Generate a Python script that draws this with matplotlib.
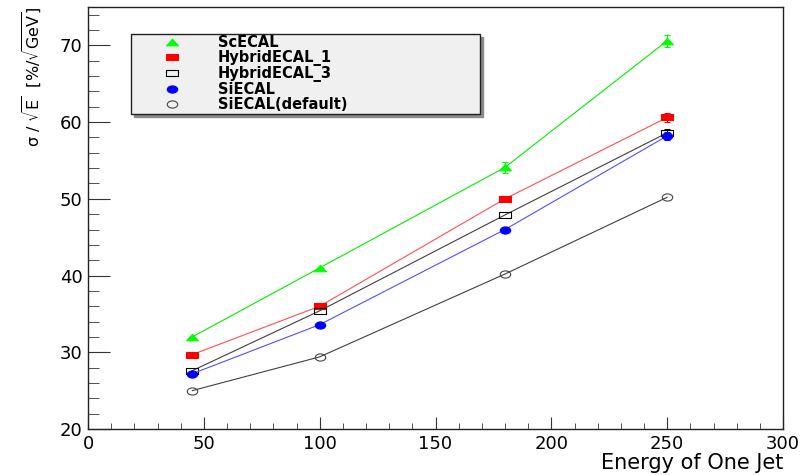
import matplotlib
matplotlib.use("Agg")
import matplotlib.pyplot as plt
from matplotlib.path import Path
from matplotlib.transforms import Affine2D
from matplotlib.lines import Line2D
from matplotlib.ticker import MultipleLocator

plt.rcParams['font.family'] = ['DejaVu Sans']
plt.rcParams['mathtext.default'] = 'regular'

# jet energies (GeV)
energy = [45, 100, 180, 250]

# resolution sigma/sqrt(E) in %/sqrt(GeV), with errors
sc_ecal = [32.0, 41.0, 54.1, 70.6]
sc_ecal_err = [0.0, 0.0, 0.7, 0.8]
hybrid_1 = [29.7, 36.0, 50.0, 60.6]
hybrid_1_err = [0.0, 0.0, 0.0, 0.6]
hybrid_3 = [27.6, 35.4, 47.9, 58.6]
hybrid_3_err = [0.0, 0.0, 0.0, 0.5]
si_ecal = [27.2, 33.6, 46.0, 58.2]
si_ecal_err = [0.0, 0.0, 0.0, 0.5]
si_default = [25.0, 29.4, 40.2, 50.2]
si_default_err = [0.0, 0.0, 0.0, 0.0]

labels = ["ScECAL", "HybridECAL_1", "HybridECAL_3", "SiECAL", "SiECAL(default)"]

# wide marker shapes
ellipse = Path.unit_circle().transformed(Affine2D().scale(1.45, 1.0))
rect = Path([(-1.7, -1), (1.7, -1), (1.7, 1), (-1.7, 1), (-1.7, -1)],
            [Path.MOVETO, Path.LINETO, Path.LINETO, Path.LINETO, Path.CLOSEPOLY])
tri = Path([(-1.8, -1), (1.8, -1), (0, 1), (-1.8, -1)],
           [Path.MOVETO, Path.LINETO, Path.LINETO, Path.CLOSEPOLY])

series = [
    (sc_ecal, sc_ecal_err, '#00ee00', '#00ff00', tri, '#00ff00', 8.5),
    (hybrid_1, hybrid_1_err, '#ff5050', '#ff0000', rect, '#ff0000', 8.5),
    (hybrid_3, hybrid_3_err, '#404040', 'none', rect, 'black', 8.5),
    (si_ecal, si_ecal_err, '#5050ff', '#0000ff', ellipse, '#0000ff', 7.5),
    (si_default, si_default_err, '#404040', 'none', ellipse, '#444444', 7.5),
]

fig = plt.figure(figsize=(8.06, 4.75), dpi=100)
ax = fig.add_axes([88 / 806, 46 / 475, 695 / 806, 422 / 475])

handles = []
for (y, err, lc, fc, mk, ec, ms), lab in zip(series, labels):
    ax.plot(energy, y, color=lc, lw=0.8, marker=mk, ms=ms, mfc=fc, mec=ec, mew=0.8)
    # error bars only where they stick out of the marker
    pts = [(x, v, e) for x, v, e in zip(energy, y, err) if e > 0]
    if pts:
        ex, ey, ee = zip(*pts)
        ax.errorbar(ex, ey, yerr=ee, fmt='none', ecolor=ec, elinewidth=0.8,
                    capsize=2.5, capthick=0.8)
    handles.append(Line2D([], [], ls='none', marker=mk, ms=ms, mfc=fc, mec=ec, mew=0.8))

ax.set_xlim(0, 300)
ax.set_ylim(20, 75)
ax.xaxis.set_major_locator(MultipleLocator(50))
ax.xaxis.set_minor_locator(MultipleLocator(10))
ax.yaxis.set_major_locator(MultipleLocator(10))
ax.yaxis.set_minor_locator(MultipleLocator(2))
ax.tick_params(axis='both', which='both', direction='in', labelsize=13, color='#333333')
ax.tick_params(axis='y', which='major', length=16, pad=4)
ax.tick_params(axis='y', which='minor', length=8)
ax.tick_params(axis='x', which='major', length=9, pad=4)
ax.tick_params(axis='x', which='minor', length=4.5)
for sp in ax.spines.values():
    sp.set_linewidth(1.0)
    sp.set_color('#222222')

ax.set_xlabel("Energy of One Jet", fontsize=15, loc='right', labelpad=0)
ax.set_ylabel(r"$\sigma\ /\ \sqrt{E}\ \ [\%/\sqrt{GeV}]$", fontsize=11.5, loc='top', labelpad=11)

leg = ax.legend(handles, labels, loc='upper left', bbox_to_anchor=(0.062, 0.746, 0.502, 0.19),
                mode='expand', borderaxespad=0, borderpad=0.1, handlelength=5.4,
                handletextpad=0.45, labelspacing=0.0, numpoints=1, fancybox=False,
                shadow={'color': '#8a8a8a', 'alpha': 1}, prop={'weight': 'bold', 'size': 10.5})
leg.get_frame().set_facecolor('#f0f0f0')
leg.get_frame().set_edgecolor('#222222')
leg.get_frame().set_alpha(1)

fig.savefig("out.png", dpi=100)
